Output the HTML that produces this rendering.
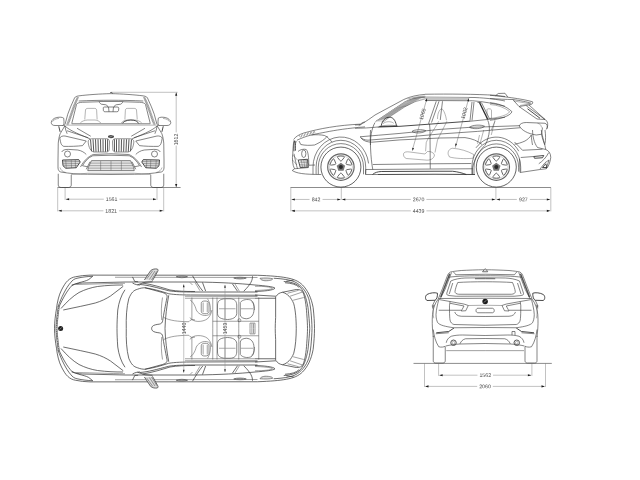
<!DOCTYPE html>
<html lang="en">
<head>
<meta charset="utf-8">
<title>Vehicle dimensions</title>
<style>
html,body{margin:0;padding:0;background:#fff;}
body{width:640px;height:480px;overflow:hidden;font-family:"Liberation Sans",sans-serif;}
svg{display:block;will-change:transform;position:absolute;left:0;top:0;}
.l path,.l line,.l ellipse,.l circle,.l rect,.l polyline{fill:none;stroke:#333;stroke-width:0.6;vector-effect:non-scaling-stroke;stroke-linecap:butt;stroke-linejoin:round;}
.l .t{stroke-width:0.4;stroke:#444;}
.l.tp path,.l.tp circle{stroke-width:0.72;}
.l.tp .t{stroke-width:0.5;stroke:#444;}
.l .h{stroke-width:0.85;stroke:#2a2a2a;}
.l .f{fill:#444;stroke:none;}
.l .w{fill:#fff;}
.d line,.d path{stroke:#777;stroke-width:0.45;fill:none;}
.d .g{stroke:#8c8c8c;stroke-width:1;}
.d polygon{fill:#1a1a1a;stroke:none;}
.d text{font-family:"Liberation Sans",sans-serif;font-size:5.25px;fill:#484848;text-anchor:middle;}
</style>
</head>
<body>
<svg width="640" height="480" viewBox="0 0 640 480">
<!-- dims -->
<g class="d">
<line class="g" x1="57.5" y1="187.5" x2="180.6" y2="187.5"/>
<line x1="57.7" y1="187.5" x2="57.7" y2="211.4"/>
<line x1="163.7" y1="187.5" x2="163.7" y2="211.4"/>
<line x1="65.1" y1="187.5" x2="65.1" y2="199.9"/>
<line x1="157" y1="187.5" x2="157" y2="199.9"/>
<line x1="66.1" y1="199.2" x2="103.8" y2="199.2"/>
<line x1="119.39999999999999" y1="199.2" x2="156" y2="199.2"/>
<polygon points="65.69999999999999,199.2 69.1,198.14999999999998 69.1,200.25"/>
<polygon points="156.4,199.2 153.0,198.14999999999998 153.0,200.25"/>
<text transform="translate(111.60,201.08) rotate(0.05)">1561</text>
<line x1="58.7" y1="210.8" x2="103.4" y2="210.8"/>
<line x1="119.0" y1="210.8" x2="162.7" y2="210.8"/>
<polygon points="58.300000000000004,210.8 61.7,209.75 61.7,211.85000000000002"/>
<polygon points="163.1,210.8 159.7,209.75 159.7,211.85000000000002"/>
<text transform="translate(111.20,212.68) rotate(0.05)">1821</text>
<line x1="111" y1="92.3" x2="177.6" y2="92.3"/>
<line x1="176.2" y1="93.3" x2="176.2" y2="132.4"/>
<line x1="176.2" y1="145.6" x2="176.2" y2="186.5"/>
<polygon points="176.2,92.3 175.14999999999998,95.7 177.25,95.7"/>
<polygon points="176.2,187.5 175.14999999999998,184.1 177.25,184.1"/>
<text transform="translate(178.04999999999998,139.5) rotate(-90)">1612</text>
<line class="g" x1="290.5" y1="187.5" x2="550.9" y2="187.5"/>
<line x1="290.8" y1="187.5" x2="290.8" y2="211.4"/>
<line x1="550.8" y1="187.5" x2="550.8" y2="211.4"/>
<line x1="341.3" y1="187.5" x2="341.3" y2="199.9"/>
<line x1="495.9" y1="187.5" x2="495.9" y2="199.9"/>
<line x1="291.8" y1="199.45" x2="309.55" y2="199.45"/>
<line x1="322.55" y1="199.45" x2="340.3" y2="199.45"/>
<polygon points="291.40000000000003,199.45 294.8,198.39999999999998 294.8,200.5"/>
<polygon points="340.7,199.45 337.3,198.39999999999998 337.3,200.5"/>
<text transform="translate(316.05,201.33) rotate(0.05)">842</text>
<line x1="342.3" y1="199.45" x2="410.8" y2="199.45"/>
<line x1="426.40000000000003" y1="199.45" x2="494.9" y2="199.45"/>
<polygon points="341.90000000000003,199.45 345.3,198.39999999999998 345.3,200.5"/>
<polygon points="495.29999999999995,199.45 491.9,198.39999999999998 491.9,200.5"/>
<text transform="translate(418.60,201.33) rotate(0.05)">2670</text>
<line x1="496.9" y1="199.45" x2="516.8499999999999" y2="199.45"/>
<line x1="529.8499999999999" y1="199.45" x2="549.8" y2="199.45"/>
<polygon points="496.5,199.45 499.9,198.39999999999998 499.9,200.5"/>
<polygon points="550.1999999999999,199.45 546.8,198.39999999999998 546.8,200.5"/>
<text transform="translate(523.35,201.33) rotate(0.05)">927</text>
<line x1="291.8" y1="210.85" x2="410.8" y2="210.85"/>
<line x1="426.40000000000003" y1="210.85" x2="549.8" y2="210.85"/>
<polygon points="291.40000000000003,210.85 294.8,209.79999999999998 294.8,211.9"/>
<polygon points="550.1999999999999,210.85 546.8,209.79999999999998 546.8,211.9"/>
<text transform="translate(418.60,212.73) rotate(0.05)">4439</text>
<line class="g" x1="413.5" y1="363.4" x2="551.8" y2="363.4"/>
<line x1="424.5" y1="363.4" x2="424.5" y2="387"/>
<line x1="545.5" y1="363.4" x2="545.5" y2="387"/>
<line x1="438.6" y1="363.4" x2="438.6" y2="375.9"/>
<line x1="531.9" y1="363.4" x2="531.9" y2="375.9"/>
<line x1="439.6" y1="375.2" x2="477.45" y2="375.2"/>
<line x1="493.05" y1="375.2" x2="530.9" y2="375.2"/>
<polygon points="439.20000000000005,375.2 442.6,374.15 442.6,376.25"/>
<polygon points="531.3,375.2 527.9,374.15 527.9,376.25"/>
<text transform="translate(485.25,377.08) rotate(0.05)">1562</text>
<line x1="425.5" y1="386.4" x2="477.2" y2="386.4"/>
<line x1="492.8" y1="386.4" x2="544.5" y2="386.4"/>
<polygon points="425.1,386.4 428.5,385.34999999999997 428.5,387.45"/>
<polygon points="544.9,386.4 541.5,385.34999999999997 541.5,387.45"/>
<text transform="translate(485.00,388.28) rotate(0.05)">2060</text>
</g>
<!-- front -->
<g class="l">

<g transform="translate(45,88) scale(0.125)">
 <g>
 <!-- roof + A pillar -->
 <path d="M528,45 C440,47 340,54 270,63 C252,66 243,70 237,78 L205,150 L182,210 L160,292"/>
 <path d="M258,72 L227,142 L190,248 L174,290 L188,290 L206,240 L240,142 L268,74 Z" style="fill:#d4d4d4;stroke:#777;stroke-width:0.5"/>
 <path class="t" d="M262,82 L246,100 M256,98 L238,120 M248,118 L230,142 M240,140 L222,164 M232,162 L214,188 M224,186 L206,212 M216,210 L198,236 M208,234 L190,260 M200,258 L182,282" style="stroke:#666"/>
 <path d="M270,104 C350,100 450,98 528,98"/>
 <!-- windshield -->
 <path d="M528,108 L626,108 M430,110 L300,114 C275,115 258,120 252,132 L214,284"/>
 <path d="M430,110 C436,112 440,126 452,130 L486,134 C498,136 500,146 504,154"/>
 <path d="M214,286 L528,286"/>
 <path class="t" d="M168,297 L528,297"/>
 <!-- seat -->
 <path class="t" d="M318,252 L324,176 C325,166 334,163 345,163 L395,163 C407,163 412,168 413,178 L417,252"/>
 <path class="t" d="M283,278 C298,264 318,258 340,256 L400,256 C420,258 436,266 446,280"/>
 <!-- door mirror -->
 <path d="M150,242 C138,232 118,232 95,236 C70,241 52,256 50,276 C50,292 62,300 80,300 L142,300 C150,298 152,290 152,270 Z"/>
 <path class="t" d="M60,270 C66,256 86,246 112,243"/>
 <path class="h" d="M110,306 L121,351"/>
 <path d="M140,300 L160,296"/>
 <!-- body side -->
 <path d="M159,302 L121,366 C112,390 108,420 106,441 L104,576 L104,640 C106,660 114,668 126,672"/>
 <path d="M159,302 L166,336 L177,366"/>
 <!-- hood creases -->
 <path d="M158,302 C200,345 300,380 362,408"/>
 <path d="M256,322 L366,386"/>
 <path d="M176,342 L346,398"/>
 <!-- headlight -->
 <path d="M118,400 C124,388 140,382 160,384 L330,424 L300,461 C260,466 200,468 150,467 C136,462 128,450 124,430 Z"/>
 <!-- kidney -->
 <path style="stroke:#777;stroke-width:0.8" d="M345,432 C345,416 355,408 375,406 L495,406 C510,408 516,416 516,432 L513,496 C511,508 500,512 490,512 L392,512 C366,508 350,478 345,432 Z"/>
 <path class="h" d="M364,412 L372,506 M384,410 L390,510 M404,410 L408,510 M424,410 L427,510 M444,410 L446,510 M464,410 L465,510 M484,410 L484,510 M501,410 L500,508" style="stroke-width:0.85;stroke:#3a3a3a"/>
 <!-- fog lamp area -->
 <path d="M134,512 C140,496 160,491 186,491 L262,496 C292,501 316,516 330,532"/>
 <circle cx="180" cy="528" r="24"/>
 <path d="M300,622 C320,588 342,558 382,542 L528,538"/>
 <path d="M284,632 C310,582 346,548 386,532 L528,526"/>
 <!-- lower vent -->
 <path class="h" d="M140,576 L270,573 L282,592 L250,638 L166,642 L144,622 Z" style="fill:#ddd"/>
 <path class="t" d="M146,590 L278,588 M146,606 L270,604 M150,622 L258,620 M166,578 L170,640 M210,576 L212,640 M242,576 L244,638"/>
 <!-- central intake -->
 <path d="M528,581 L372,581 L346,636 L342,661 L528,661" style="fill:#e6e6e6"/>
 <path class="t" d="M364,601 L528,601 M354,621 L528,621 M346,641 L528,641 M445,584 L445,658"/>
 <path d="M300,622 L340,630 M330,650 L360,590"/>
 <!-- bumper bottom -->
 <path d="M126,672 C200,684 260,690 340,690 L528,692"/>
 <path class="t" d="M120,636 C126,656 140,670 166,676 M210,692 L340,682 L528,682"/>
 <!-- tire -->
 <path d="M106,686 L106,776 C106,790 116,796 130,796 L190,796 C204,794 210,786 210,776 L210,694"/>
</g>
 <g transform="translate(1056,0) scale(-1,1)">
 <!-- roof + A pillar -->
 <path d="M528,45 C440,47 340,54 270,63 C252,66 243,70 237,78 L205,150 L182,210 L160,292"/>
 <path d="M258,72 L227,142 L190,248 L174,290 L188,290 L206,240 L240,142 L268,74 Z" style="fill:#d4d4d4;stroke:#777;stroke-width:0.5"/>
 <path class="t" d="M262,82 L246,100 M256,98 L238,120 M248,118 L230,142 M240,140 L222,164 M232,162 L214,188 M224,186 L206,212 M216,210 L198,236 M208,234 L190,260 M200,258 L182,282" style="stroke:#666"/>
 <path d="M270,104 C350,100 450,98 528,98"/>
 <!-- windshield -->
 <path d="M528,108 L626,108 M430,110 L300,114 C275,115 258,120 252,132 L214,284"/>
 <path d="M430,110 C436,112 440,126 452,130 L486,134 C498,136 500,146 504,154"/>
 <path d="M214,286 L528,286"/>
 <path class="t" d="M168,297 L528,297"/>
 <!-- seat -->
 <path class="t" d="M318,252 L324,176 C325,166 334,163 345,163 L395,163 C407,163 412,168 413,178 L417,252"/>
 <path class="t" d="M283,278 C298,264 318,258 340,256 L400,256 C420,258 436,266 446,280"/>
 <!-- door mirror -->
 <path d="M150,242 C138,232 118,232 95,236 C70,241 52,256 50,276 C50,292 62,300 80,300 L142,300 C150,298 152,290 152,270 Z"/>
 <path class="t" d="M60,270 C66,256 86,246 112,243"/>
 <path class="h" d="M110,306 L121,351"/>
 <path d="M140,300 L160,296"/>
 <!-- body side -->
 <path d="M159,302 L121,366 C112,390 108,420 106,441 L104,576 L104,640 C106,660 114,668 126,672"/>
 <path d="M159,302 L166,336 L177,366"/>
 <!-- hood creases -->
 <path d="M158,302 C200,345 300,380 362,408"/>
 <path d="M256,322 L366,386"/>
 <path d="M176,342 L346,398"/>
 <!-- headlight -->
 <path d="M118,400 C124,388 140,382 160,384 L330,424 L300,461 C260,466 200,468 150,467 C136,462 128,450 124,430 Z"/>
 <!-- kidney -->
 <path style="stroke:#777;stroke-width:0.8" d="M345,432 C345,416 355,408 375,406 L495,406 C510,408 516,416 516,432 L513,496 C511,508 500,512 490,512 L392,512 C366,508 350,478 345,432 Z"/>
 <path class="h" d="M364,412 L372,506 M384,410 L390,510 M404,410 L408,510 M424,410 L427,510 M444,410 L446,510 M464,410 L465,510 M484,410 L484,510 M501,410 L500,508" style="stroke-width:0.85;stroke:#3a3a3a"/>
 <!-- fog lamp area -->
 <path d="M134,512 C140,496 160,491 186,491 L262,496 C292,501 316,516 330,532"/>
 <circle cx="180" cy="528" r="24"/>
 <path d="M300,622 C320,588 342,558 382,542 L528,538"/>
 <path d="M284,632 C310,582 346,548 386,532 L528,526"/>
 <!-- lower vent -->
 <path class="h" d="M140,576 L270,573 L282,592 L250,638 L166,642 L144,622 Z" style="fill:#ddd"/>
 <path class="t" d="M146,590 L278,588 M146,606 L270,604 M150,622 L258,620 M166,578 L170,640 M210,576 L212,640 M242,576 L244,638"/>
 <!-- central intake -->
 <path d="M528,581 L372,581 L346,636 L342,661 L528,661" style="fill:#e6e6e6"/>
 <path class="t" d="M364,601 L528,601 M354,621 L528,621 M346,641 L528,641 M445,584 L445,658"/>
 <path d="M300,622 L340,630 M330,650 L360,590"/>
 <!-- bumper bottom -->
 <path d="M126,672 C200,684 260,690 340,690 L528,692"/>
 <path class="t" d="M120,636 C126,656 140,670 166,676 M210,692 L340,682 L528,682"/>
 <!-- tire -->
 <path d="M106,686 L106,776 C106,790 116,796 130,796 L190,796 C204,794 210,786 210,776 L210,694"/>
</g>
 <!-- centre items -->
 <path class="t" d="M528,584 L528,658"/>
 <path d="M466,160 C466,154 470,152 478,152 L578,152 C586,152 590,156 590,162 L588,182 C586,188 582,190 574,190 L482,190 C472,190 468,186 467,180 Z M508,153 L512,190 M548,153 L544,190"/>
 <ellipse class="f" cx="528" cy="388" rx="24" ry="13"/>
 <path d="M514,394 L542,382" style="stroke:#fff;stroke-width:0.4"/>
 <path d="M520,36 L536,36 L540,45"/>
 <!-- steering wheel -->
 <path class="h" d="M620,280 C640,258 680,252 710,258 C730,262 742,270 750,284"/>
</g>
</g>

<!-- side -->
<g class="l">
<!-- S1: hood (origin 285,85) -->
<g transform="translate(285,85) scale(0.125)">
 <path d="M69,436 C85,412 110,398 150,384 C280,348 420,322 604,313"/>
 <path d="M95,442 C130,425 170,410 211,400 C260,388 300,382 324,377 C400,362 500,346 640,335"/>
 <path d="M118,412 C160,396 200,386 240,376" style="stroke:#444;stroke-width:2.4;stroke-dasharray:0.45 1.1"/>
 <path d="M211,400 C250,396 290,398 316,404 C340,415 360,435 376,458"/>
 <path d="M590,325 L620,300 L640,296"/>
</g>
<!-- S2: front lower (origin 285,130) -->
<g transform="translate(285,130) scale(0.125)">
 <path d="M72,82 C66,110 64,150 62,190 C56,230 60,280 76,310 L58,324 C90,346 150,356 290,356"/>
 <path class="h" d="M78,85 C70,110 70,140 72,170 M88,88 C82,110 82,140 84,165"/>
 <path d="M112,88 L126,116 C160,124 200,124 236,120 C290,96 320,72 340,48"/>
 <path d="M104,172 C120,156 150,150 170,156 C186,172 190,220 190,282"/>
 <ellipse cx="150" cy="190" rx="17" ry="30"/>
 <path class="h" d="M106,240 L180,234 L186,296 L122,300 Z"/>
 <path class="t" d="M120,250 L182,246 M114,262 L184,258 M118,276 L184,272 M120,288 L186,284 M130,240 L140,298 M150,238 L158,298 M168,236 L174,296"/>
 <path d="M72,190 C80,230 90,280 100,310 M76,310 L190,300 M190,282 L240,280"/>
 <path class="t" d="M62,200 L100,240 M60,240 L96,280"/>
</g>
<!-- S3: A pillar / front door upper (origin 355,85) -->
<g transform="translate(355,85) scale(0.125)">
 <path d="M44,318 C90,290 130,262 160,240 L390,116 C440,92 500,80 560,75"/>
 <path d="M0,320 L44,318 M0,346 C60,346 130,342 180,336"/>
 <path d="M164,292 L400,134 C450,108 510,101 560,99"/>
 <path class="t" d="M420,112 C480,96 520,90 560,89"/>
 <path d="M164,292 L400,134 C450,110 500,104 580,104 L480,134 L400,174 L300,240 L222,298 Z" style="fill:#e4e4e4;stroke:none"/>
 <path class="t" d="M170,288 L265,260 M183,279 L278,252 M196,271 L291,243 M209,262 L304,234 M222,253 L317,226 M235,244 L330,217 M248,236 L343,208 M261,227 L356,199 M274,218 L369,191 M287,210 L382,182 M300,201 L395,173 M313,192 L408,168 M326,184 L421,163 M339,175 L434,156 M352,166 L447,149 M365,157 L460,142 M378,149 L473,135 M391,140 L486,128 M404,132 L499,121 M417,127 L512,113 M430,121 L525,106 M443,115 L538,99 M456,109 L551,95 M469,104 L564,91" style="stroke:#666"/>
 <path d="M222,298 L300,240 L400,174 L480,134 L580,106" style="stroke-width:0.4"/>
 <path class="h" d="M210,326 C218,282 245,258 275,258 C302,258 322,276 332,326"/>
 <path class="h" d="M196,332 L340,328"/>
 <path class="t" d="M225,310 C240,290 290,288 310,306 M190,332 C230,320 300,318 336,328"/>
 <path d="M160,300 C132,350 122,420 124,480"/>
 <path d="M456,372 C470,356 540,352 566,366 C548,386 480,390 456,372 Z"/>
</g>
<!-- S4: front door lower (origin 355,130) -->
<g transform="translate(355,130) scale(0.125)">
 <path d="M124,0 C120,80 124,220 142,316"/>
 <path class="t" d="M390,186 C384,200 390,220 410,228 L560,240 C600,246 630,232 636,200 C630,180 604,170 580,172 L560,192 L440,176 C410,172 396,176 390,186 Z"/>
 <path d="M142,276 L640,270"/>
 <path d="M86,316 L640,312"/>
 <path class="h" d="M140,356 C160,340 180,334 210,332 L640,330 M180,356 L640,354"/>
 <path d="M86,316 L84,356 L180,356"/>
</g>
<!-- S5: rear door upper (origin 425,85) -->
<g transform="translate(425,85) scale(0.125)">
 <path d="M0,74 C200,71 400,73 560,82 L640,92"/>
 <path d="M0,97 L400,100 C500,105 580,116 640,128"/>
 <path d="M4,110 L350,111" style="stroke:#c4c4c4;stroke-width:3"/>
 <path d="M0,124 L380,126 C460,131 560,150 640,170"/>
 <path d="M90,130 L28,310 M112,130 L52,300 M140,130 L122,280"/>
 <path class="t" d="M100,272 C100,220 120,190 135,190 C150,200 166,240 172,282"/>
 <path d="M376,136 L360,286 M392,136 L376,284"/>
 <path class="h" d="M436,140 L502,276" style="stroke-width:1.3"/>
 <path d="M420,140 L450,140 M452,142 L516,270"/>
 <path d="M360,290 L500,276 L640,258"/>
 <path d="M356,338 C380,318 450,316 476,330 C456,352 380,356 356,338 Z"/>
 <path class="t" d="M496,200 C496,192 502,190 510,190 L524,192 C530,194 532,200 532,206 L532,266 L496,270 Z"/>
 <path d="M502,282 C522,330 522,400 482,480"/>
 <path class="t" d="M560,280 L530,400"/>
</g>
<!-- S6: rear door lower (origin 425,130) -->
<g transform="translate(425,130) scale(0.125)">
 <path d="M36,-50 L40,0 L42,310"/>
 <path class="t" d="M186,196 C180,170 196,150 220,146 C280,150 340,168 390,196 L384,226 C320,232 240,228 196,216 Z"/>
 <path d="M80,270 L370,268"/>
 <path d="M80,312 L380,310"/>
 <path class="h" d="M80,330 L220,330 C260,334 300,344 330,356 M80,354 L400,356"/>
 <path d="M480,122 C440,160 400,220 380,300 L380,356"/>
 <path class="t" d="M436,40 L420,110 M470,0 L440,110"/>
</g>
<!-- S7: rear upper (origin 490,85) -->
<g transform="translate(490,85) scale(0.125)">
 <path d="M44,86 L66,68 L120,66 L142,96"/>
 <path d="M0,82 C100,92 250,108 340,134 C346,146 336,156 320,158 L232,172 L182,116"/>
 <path d="M0,108 C60,112 130,116 182,116 M182,116 C240,124 300,136 330,146"/>
 <path d="M0,142 C60,146 130,168 176,214 C160,250 80,272 0,282"/>
 <path class="t" d="M0,156 C60,160 120,180 158,214 C140,240 80,258 0,268"/>
 <path d="M232,172 L376,272 M290,166 L440,276 M312,160 L456,290"/>
 <path class="h" d="M300,190 L400,266"/>
 <path d="M376,272 L440,276"/>
 <path d="M456,290 C466,310 462,340 450,356"/>
 <path d="M234,326 C240,310 260,300 290,300 L440,306 C458,312 462,330 456,350"/>
 <path d="M234,326 C250,360 300,390 370,400 L412,394 L420,340"/>
 <path class="t" d="M380,306 C400,310 410,320 412,340"/>
 <path class="t" d="M190,128 L322,150 L240,164"/>
 <path d="M330,400 C320,420 300,436 280,448 C250,462 220,470 196,474"/>
 <path d="M330,400 C332,430 336,460 340,480 M412,394 C420,430 430,460 440,480"/>
 <path class="t" d="M40,290 L10,360"/>
</g>
<!-- S8: rear lower (origin 490,130) -->
<g transform="translate(490,130) scale(0.125)">
 <path d="M410,0 C420,60 440,120 446,156 C470,166 486,186 486,220 C480,260 470,290 450,310 L400,316 L240,340"/>
 <path d="M340,0 C342,50 350,100 380,140 L446,156"/>
 <path d="M440,0 C446,40 446,80 440,110"/>
 <path d="M196,96 L260,162 L420,154 M246,220 L350,212 M240,340 L236,230"/>
 <path class="h" d="M350,212 L430,204 L420,222 L356,226 Z"/>
 <path d="M390,270 C420,250 450,220 470,180 M400,312 L440,262 L472,240 L450,310"/>
 <path class="h" d="M420,300 L446,270 L456,300 Z"/>
</g>

<!-- global long lines (real coords) -->
<g>
 <path class="h" d="M377.5,127.1 L400,126.3 L440,123.4 L470,121.2"/>
 <path d="M360,136.8 L378.75,135.2 L400,133.4 L440,129.4 L469,127.4 L520,125.7"/>
 <path d="M360,136.8 C362,139 365,140.2 368,140.2 L400,137.6 L440,134 L477.5,131.4 L500,129.4 L520.5,127.7"/>
 <path d="M361,138 C363,141 368,142.2 372,142.2 L400,139.9 L440,138 L465,137.6 C472,138.5 478,141 482,144.5"/>
 <path class="t" d="M426.9,98.5 L412.6,149.3 M468.75,98.3 L455.3,147.8"/>
 <path class="t" d="M438.75,121.25 C434,130 428,138 426.25,142.5 L425.6,151.25 M446.9,121.25 L437.5,140 L435,152.5"/>
</g>

<path d="M318.30,174.3 L318.30,167.10 A22.6,23.5 0 0 1 363.50,167.10 L363.50,174.3"/>
<path d="M316.10,174.3 L316.10,167.10 A24.8,26.8 0 0 1 365.70,167.10 L365.70,174.3"/>
<path d="M313.00,174.3 L313.00,167.10 A27.9,30.1 0 0 1 368.59,163.43"/>
<path d="M474.00,174.2 L474.00,167.10 A22.3,23.2 0 0 1 518.60,167.10 L518.60,171.6"/>
<path d="M471.90,174.2 L471.90,167.10 A24.4,26.8 0 0 1 520.70,167.10 L520.70,171.9"/>
<path d="M476.00,147.82 A26.5,30.0 0 0 1 518.77,151.20"/>
<g transform="translate(340.9,167.1)">
<circle class="w" r="20" style="stroke-width:0.75"/>
<circle r="13.2" style="stroke-width:1.2;stroke:#666"/>
<circle class="t" r="11.6" style="stroke:#999"/>
<path transform="rotate(30) translate(-0.6,0) scale(1.1)" d="M10.4,-2.6 C10.7,-1 10.7,1 10.4,2.6 C10.2,3.3 9.6,3.3 9,2.8 L6.5,0.8 C5.9,0.3 5.9,-0.3 6.5,-0.8 L9,-2.8 C9.6,-3.3 10.2,-3.3 10.4,-2.6 Z" style="stroke-width:0.9;stroke:#555"/>
<path transform="rotate(90) translate(-0.6,0) scale(1.1)" d="M10.4,-2.6 C10.7,-1 10.7,1 10.4,2.6 C10.2,3.3 9.6,3.3 9,2.8 L6.5,0.8 C5.9,0.3 5.9,-0.3 6.5,-0.8 L9,-2.8 C9.6,-3.3 10.2,-3.3 10.4,-2.6 Z" style="stroke-width:0.9;stroke:#555"/>
<path transform="rotate(150) translate(-0.6,0) scale(1.1)" d="M10.4,-2.6 C10.7,-1 10.7,1 10.4,2.6 C10.2,3.3 9.6,3.3 9,2.8 L6.5,0.8 C5.9,0.3 5.9,-0.3 6.5,-0.8 L9,-2.8 C9.6,-3.3 10.2,-3.3 10.4,-2.6 Z" style="stroke-width:0.9;stroke:#555"/>
<path transform="rotate(210) translate(-0.6,0) scale(1.1)" d="M10.4,-2.6 C10.7,-1 10.7,1 10.4,2.6 C10.2,3.3 9.6,3.3 9,2.8 L6.5,0.8 C5.9,0.3 5.9,-0.3 6.5,-0.8 L9,-2.8 C9.6,-3.3 10.2,-3.3 10.4,-2.6 Z" style="stroke-width:0.9;stroke:#555"/>
<path transform="rotate(270) translate(-0.6,0) scale(1.1)" d="M10.4,-2.6 C10.7,-1 10.7,1 10.4,2.6 C10.2,3.3 9.6,3.3 9,2.8 L6.5,0.8 C5.9,0.3 5.9,-0.3 6.5,-0.8 L9,-2.8 C9.6,-3.3 10.2,-3.3 10.4,-2.6 Z" style="stroke-width:0.9;stroke:#555"/>
<path transform="rotate(330) translate(-0.6,0) scale(1.1)" d="M10.4,-2.6 C10.7,-1 10.7,1 10.4,2.6 C10.2,3.3 9.6,3.3 9,2.8 L6.5,0.8 C5.9,0.3 5.9,-0.3 6.5,-0.8 L9,-2.8 C9.6,-3.3 10.2,-3.3 10.4,-2.6 Z" style="stroke-width:0.9;stroke:#555"/>
<path class="f" d="M0,-4.4 L4.2,-1.36 L2.6,3.56 L-2.6,3.56 L-4.2,-1.36 Z" style="fill:#777"/>
<circle class="f" r="2" style="fill:#2a2a2a"/>
</g>
<g transform="translate(496.3,167.1)">
<circle class="w" r="20" style="stroke-width:0.75"/>
<circle r="13.2" style="stroke-width:1.2;stroke:#666"/>
<circle class="t" r="11.6" style="stroke:#999"/>
<path transform="rotate(30) translate(-0.6,0) scale(1.1)" d="M10.4,-2.6 C10.7,-1 10.7,1 10.4,2.6 C10.2,3.3 9.6,3.3 9,2.8 L6.5,0.8 C5.9,0.3 5.9,-0.3 6.5,-0.8 L9,-2.8 C9.6,-3.3 10.2,-3.3 10.4,-2.6 Z" style="stroke-width:0.9;stroke:#555"/>
<path transform="rotate(90) translate(-0.6,0) scale(1.1)" d="M10.4,-2.6 C10.7,-1 10.7,1 10.4,2.6 C10.2,3.3 9.6,3.3 9,2.8 L6.5,0.8 C5.9,0.3 5.9,-0.3 6.5,-0.8 L9,-2.8 C9.6,-3.3 10.2,-3.3 10.4,-2.6 Z" style="stroke-width:0.9;stroke:#555"/>
<path transform="rotate(150) translate(-0.6,0) scale(1.1)" d="M10.4,-2.6 C10.7,-1 10.7,1 10.4,2.6 C10.2,3.3 9.6,3.3 9,2.8 L6.5,0.8 C5.9,0.3 5.9,-0.3 6.5,-0.8 L9,-2.8 C9.6,-3.3 10.2,-3.3 10.4,-2.6 Z" style="stroke-width:0.9;stroke:#555"/>
<path transform="rotate(210) translate(-0.6,0) scale(1.1)" d="M10.4,-2.6 C10.7,-1 10.7,1 10.4,2.6 C10.2,3.3 9.6,3.3 9,2.8 L6.5,0.8 C5.9,0.3 5.9,-0.3 6.5,-0.8 L9,-2.8 C9.6,-3.3 10.2,-3.3 10.4,-2.6 Z" style="stroke-width:0.9;stroke:#555"/>
<path transform="rotate(270) translate(-0.6,0) scale(1.1)" d="M10.4,-2.6 C10.7,-1 10.7,1 10.4,2.6 C10.2,3.3 9.6,3.3 9,2.8 L6.5,0.8 C5.9,0.3 5.9,-0.3 6.5,-0.8 L9,-2.8 C9.6,-3.3 10.2,-3.3 10.4,-2.6 Z" style="stroke-width:0.9;stroke:#555"/>
<path transform="rotate(330) translate(-0.6,0) scale(1.1)" d="M10.4,-2.6 C10.7,-1 10.7,1 10.4,2.6 C10.2,3.3 9.6,3.3 9,2.8 L6.5,0.8 C5.9,0.3 5.9,-0.3 6.5,-0.8 L9,-2.8 C9.6,-3.3 10.2,-3.3 10.4,-2.6 Z" style="stroke-width:0.9;stroke:#555"/>
<path class="f" d="M0,-4.4 L4.2,-1.36 L2.6,3.56 L-2.6,3.56 L-4.2,-1.36 Z" style="fill:#777"/>
<circle class="f" r="2" style="fill:#2a2a2a"/>
</g>
</g>
<g class="d sidetext"><text transform="translate(424.3,114.6) rotate(-74.3)">1065</text><text transform="translate(466,113.6) rotate(-74.5)">1002</text><polygon points="426.9,98.2 427.1,101.4 425.4,101"/><polygon points="468.8,98.2 469,101.4 467.3,101"/><polygon points="412.4,151 412.3,147.8 414,148.3"/><polygon points="455.4,146.6 455.3,143.4 457,143.9"/></g>
<!-- top -->
<g class="l tp">

<g transform="translate(45,255) scale(0.125)">
 <g>
 <!-- front corner / hood (T1) -->
 <path d="M76,588 C76,540 83,480 92,430 C97,380 111,320 132,280 C150,245 165,220 182,205 C200,188 220,178 244,174 C280,166 320,162 360,161 L1700,162"/>
 <path d="M104,416 C130,340 170,260 204,222 C220,200 236,190 256,186 C300,176 340,172 382,170 L350,196 C330,208 300,214 270,222 L212,242"/>
 <path d="M110,420 C140,350 180,280 216,244 C240,230 270,226 300,224 L640,216 L1200,216"/>
 <path class="t" d="M250,236 C400,232 520,228 640,226"/>
 <path d="M128,428 C170,380 220,330 272,300 C320,276 370,260 420,252 C500,242 560,240 624,240"/>
 <path d="M146,440 C240,420 330,402 402,384 C450,370 490,350 524,328 L626,250"/>
 <!-- grille band -->
 <path d="M110,412 C105,455 94,520 92,588" style="stroke:#666;stroke-width:2"/>
 <path d="M110,420 C105,458 95,520 93,588" style="stroke:#fff;stroke-width:0.8;stroke-dasharray:0.7 1"/>
 <!-- cowl + windshield (T1b) -->
 <path d="M640,278 C610,320 590,380 582,440 C578,500 576,540 576,588"/>
 <path d="M650,588 C648,500 652,420 670,350 C690,300 710,282 740,274 C760,266 780,262 800,262 L940,300 C970,310 980,320 976,340 C964,400 948,480 942,522 C940,542 930,550 915,553 C890,556 870,560 860,570 C855,576 853,582 853,588"/>
 <path d="M990,322 C975,400 962,500 960,588"/>
 <path class="t" d="M940,340 C930,400 928,460 934,520"/>
 <!-- A pillar / roof rail -->
 <path d="M700,224 C720,236 740,240 760,240 M740,238 L800,218 L860,214"/>
 <path class="h" d="M760,236 C820,240 900,262 990,286 C1040,294 1100,296 1200,296 L1700,296"/>
 <path d="M780,224 C860,236 940,262 1000,280 C1060,290 1120,292 1200,292"/>
 <path d="M800,262 C860,270 930,290 990,310 C1040,318 1100,320 1200,320 L1700,322"/>
 <path class="t" d="M560,178 L1700,180"/>
 <!-- mirror -->
 <path d="M795,200 L845,125 C860,112 880,110 896,112 C906,114 906,122 902,130 L860,205" style="fill:#ddd"/>
 <path class="t" d="M815,190 L862,125 M835,196 L880,128 M852,200 L895,130"/>
 <path d="M700,175 L718,212 L745,214"/>
 <!-- door handles -->
 <path d="M1050,174 C1070,166 1120,166 1140,174 C1120,184 1070,184 1050,174 Z" style="fill:#bbb;stroke:#555"/>
 <path d="M1510,184 C1530,176 1590,176 1610,184 C1590,194 1530,194 1510,184 Z" style="fill:#bbb;stroke:#555"/>
 <!-- pillars diag (T1c) -->
 <path d="M1180,166 C1200,200 1230,250 1262,288 M1260,220 L1285,288 M1500,232 L1540,290 M1660,170 C1660,200 1650,230 1590,290"/>
 <path class="t" d="M1200,220 L1240,286 M1520,232 L1555,290 M1160,220 L1180,240"/>
 <!-- interior -->
 <path class="t" d="M1175,340 L1175,515 M1342,340 L1342,588 M1376,340 L1376,588 M1550,340 L1550,588 M1710,340 L1710,588"/>
 <path class="t" d="M1120,330 L1700,332 M1120,346 L1680,346"/>
 <path class="t" d="M1342,530 L1710,530"/>
 <!-- front seat -->
 <path class="t" d="M1160,360 C1180,370 1200,400 1210,440 C1230,480 1290,500 1320,470 C1330,430 1320,380 1300,350"/>
 <path class="t" d="M1160,500 C1180,540 1260,540 1300,510 C1320,490 1330,470 1335,440"/>
 <path d="M1250,388 C1250,372 1262,368 1280,368 C1300,368 1312,374 1312,390 L1312,450 C1312,466 1300,470 1280,470 C1262,470 1250,464 1250,450 Z" style="stroke:#666"/>
 <path class="t" d="M1265,380 L1265,458 M1298,380 L1298,458"/>
 <path class="t" d="M950,500 C1000,525 1060,532 1150,534 C1160,520 1180,510 1200,520"/>
 <!-- rear seats -->
 <path d="M1380,400 C1380,370 1400,352 1440,350 L1480,350 C1520,352 1532,370 1534,400 L1534,470 C1530,500 1500,515 1460,516 C1410,514 1382,500 1380,470 Z" style="stroke:#666;stroke-width:0.8"/>
 <path d="M1392,430 L1524,430 M1440,352 L1440,514" style="stroke:#888"/>
 <path d="M1562,380 C1580,356 1620,350 1650,362 C1670,376 1674,400 1672,440 C1670,480 1650,508 1610,510 C1585,508 1565,500 1562,480 Z" style="stroke:#666;stroke-width:0.8"/>
 <path d="M1566,430 L1664,430" style="stroke:#888"/>
 <path class="t" d="M1650,372 C1664,380 1676,400 1676,440"/>
 <circle class="t" cx="1555" cy="522" r="12"/>
 <!-- armrest -->
 <path d="M1640,545 L1680,545 L1680,588 M1640,545 L1640,588 M1655,548 L1655,588 M1668,548 L1668,588" style="stroke:#777"/>
 <!-- rear (T1d) -->
 <path d="M1700,162 C1800,166 1880,172 1930,182 C1990,192 2030,210 2060,240 C2100,280 2130,340 2145,420 C2152,480 2156,540 2156,588"/>
 <path d="M1830,186 C1900,190 1960,198 2000,216 C2050,240 2090,290 2110,350 C2125,400 2134,500 2136,588"/>
 <path d="M1910,212 C1960,214 2000,224 2030,246 C2070,280 2090,340 2104,420 C2110,480 2116,540 2118,588"/>
 <path d="M1920,222 C1970,226 2010,234 2034,260 M1990,200 L1930,210"/>
 <path d="M1850,330 C1860,310 1880,302 1900,298 L2010,276 C2040,274 2056,284 2066,304 C2080,340 2090,400 2094,470 C2098,520 2100,560 2100,588"/>
 <path d="M1900,298 C1940,310 1970,340 1990,390 C2004,440 2010,520 2010,588"/>
 <path class="t" d="M1960,330 L2060,296 M1985,362 L2070,340 M1940,306 L2030,282"/>
 <path d="M1845,335 L1845,500 C1843,540 1842,560 1842,588"/>
 <path d="M1200,216 C1400,218 1560,228 1680,240 C1760,246 1830,254 1840,265 C1830,284 1740,290 1680,292" />
 <path class="t" d="M1680,250 C1750,250 1810,256 1820,266 C1810,278 1740,282 1680,284"/>
 <path d="M1720,186 C1760,182 1800,184 1822,190 C1820,200 1800,206 1760,206 C1740,204 1724,198 1720,186 Z" style="fill:#ddd;stroke:#666"/>
 <path d="M1680,320 L1850,330 M1680,346 L1845,346"/>
</g>
 <g transform="translate(0,1176) scale(1,-1)">
 <!-- front corner / hood (T1) -->
 <path d="M76,588 C76,540 83,480 92,430 C97,380 111,320 132,280 C150,245 165,220 182,205 C200,188 220,178 244,174 C280,166 320,162 360,161 L1700,162"/>
 <path d="M104,416 C130,340 170,260 204,222 C220,200 236,190 256,186 C300,176 340,172 382,170 L350,196 C330,208 300,214 270,222 L212,242"/>
 <path d="M110,420 C140,350 180,280 216,244 C240,230 270,226 300,224 L640,216 L1200,216"/>
 <path class="t" d="M250,236 C400,232 520,228 640,226"/>
 <path d="M128,428 C170,380 220,330 272,300 C320,276 370,260 420,252 C500,242 560,240 624,240"/>
 <path d="M146,440 C240,420 330,402 402,384 C450,370 490,350 524,328 L626,250"/>
 <!-- grille band -->
 <path d="M110,412 C105,455 94,520 92,588" style="stroke:#666;stroke-width:2"/>
 <path d="M110,420 C105,458 95,520 93,588" style="stroke:#fff;stroke-width:0.8;stroke-dasharray:0.7 1"/>
 <!-- cowl + windshield (T1b) -->
 <path d="M640,278 C610,320 590,380 582,440 C578,500 576,540 576,588"/>
 <path d="M650,588 C648,500 652,420 670,350 C690,300 710,282 740,274 C760,266 780,262 800,262 L940,300 C970,310 980,320 976,340 C964,400 948,480 942,522 C940,542 930,550 915,553 C890,556 870,560 860,570 C855,576 853,582 853,588"/>
 <path d="M990,322 C975,400 962,500 960,588"/>
 <path class="t" d="M940,340 C930,400 928,460 934,520"/>
 <!-- A pillar / roof rail -->
 <path d="M700,224 C720,236 740,240 760,240 M740,238 L800,218 L860,214"/>
 <path class="h" d="M760,236 C820,240 900,262 990,286 C1040,294 1100,296 1200,296 L1700,296"/>
 <path d="M780,224 C860,236 940,262 1000,280 C1060,290 1120,292 1200,292"/>
 <path d="M800,262 C860,270 930,290 990,310 C1040,318 1100,320 1200,320 L1700,322"/>
 <path class="t" d="M560,178 L1700,180"/>
 <!-- mirror -->
 <path d="M795,200 L845,125 C860,112 880,110 896,112 C906,114 906,122 902,130 L860,205" style="fill:#ddd"/>
 <path class="t" d="M815,190 L862,125 M835,196 L880,128 M852,200 L895,130"/>
 <path d="M700,175 L718,212 L745,214"/>
 <!-- door handles -->
 <path d="M1050,174 C1070,166 1120,166 1140,174 C1120,184 1070,184 1050,174 Z" style="fill:#bbb;stroke:#555"/>
 <path d="M1510,184 C1530,176 1590,176 1610,184 C1590,194 1530,194 1510,184 Z" style="fill:#bbb;stroke:#555"/>
 <!-- pillars diag (T1c) -->
 <path d="M1180,166 C1200,200 1230,250 1262,288 M1260,220 L1285,288 M1500,232 L1540,290 M1660,170 C1660,200 1650,230 1590,290"/>
 <path class="t" d="M1200,220 L1240,286 M1520,232 L1555,290 M1160,220 L1180,240"/>
 <!-- interior -->
 <path class="t" d="M1175,340 L1175,515 M1342,340 L1342,588 M1376,340 L1376,588 M1550,340 L1550,588 M1710,340 L1710,588"/>
 <path class="t" d="M1120,330 L1700,332 M1120,346 L1680,346"/>
 <path class="t" d="M1342,530 L1710,530"/>
 <!-- front seat -->
 <path class="t" d="M1160,360 C1180,370 1200,400 1210,440 C1230,480 1290,500 1320,470 C1330,430 1320,380 1300,350"/>
 <path class="t" d="M1160,500 C1180,540 1260,540 1300,510 C1320,490 1330,470 1335,440"/>
 <path d="M1250,388 C1250,372 1262,368 1280,368 C1300,368 1312,374 1312,390 L1312,450 C1312,466 1300,470 1280,470 C1262,470 1250,464 1250,450 Z" style="stroke:#666"/>
 <path class="t" d="M1265,380 L1265,458 M1298,380 L1298,458"/>
 <path class="t" d="M950,500 C1000,525 1060,532 1150,534 C1160,520 1180,510 1200,520"/>
 <!-- rear seats -->
 <path d="M1380,400 C1380,370 1400,352 1440,350 L1480,350 C1520,352 1532,370 1534,400 L1534,470 C1530,500 1500,515 1460,516 C1410,514 1382,500 1380,470 Z" style="stroke:#666;stroke-width:0.8"/>
 <path d="M1392,430 L1524,430 M1440,352 L1440,514" style="stroke:#888"/>
 <path d="M1562,380 C1580,356 1620,350 1650,362 C1670,376 1674,400 1672,440 C1670,480 1650,508 1610,510 C1585,508 1565,500 1562,480 Z" style="stroke:#666;stroke-width:0.8"/>
 <path d="M1566,430 L1664,430" style="stroke:#888"/>
 <path class="t" d="M1650,372 C1664,380 1676,400 1676,440"/>
 <circle class="t" cx="1555" cy="522" r="12"/>
 <!-- armrest -->
 <path d="M1640,545 L1680,545 L1680,588 M1640,545 L1640,588 M1655,548 L1655,588 M1668,548 L1668,588" style="stroke:#777"/>
 <!-- rear (T1d) -->
 <path d="M1700,162 C1800,166 1880,172 1930,182 C1990,192 2030,210 2060,240 C2100,280 2130,340 2145,420 C2152,480 2156,540 2156,588"/>
 <path d="M1830,186 C1900,190 1960,198 2000,216 C2050,240 2090,290 2110,350 C2125,400 2134,500 2136,588"/>
 <path d="M1910,212 C1960,214 2000,224 2030,246 C2070,280 2090,340 2104,420 C2110,480 2116,540 2118,588"/>
 <path d="M1920,222 C1970,226 2010,234 2034,260 M1990,200 L1930,210"/>
 <path d="M1850,330 C1860,310 1880,302 1900,298 L2010,276 C2040,274 2056,284 2066,304 C2080,340 2090,400 2094,470 C2098,520 2100,560 2100,588"/>
 <path d="M1900,298 C1940,310 1970,340 1990,390 C2004,440 2010,520 2010,588"/>
 <path class="t" d="M1960,330 L2060,296 M1985,362 L2070,340 M1940,306 L2030,282"/>
 <path d="M1845,335 L1845,500 C1843,540 1842,560 1842,588"/>
 <path d="M1200,216 C1400,218 1560,228 1680,240 C1760,246 1830,254 1840,265 C1830,284 1740,290 1680,292" />
 <path class="t" d="M1680,250 C1750,250 1810,256 1820,266 C1810,278 1740,282 1680,284"/>
 <path d="M1720,186 C1760,182 1800,184 1822,190 C1820,200 1800,206 1760,206 C1740,204 1724,198 1720,186 Z" style="fill:#ddd;stroke:#666"/>
 <path d="M1680,320 L1850,330 M1680,346 L1845,346"/>
</g>
 <circle class="f" cx="125" cy="588" r="20" style="fill:#222"/>
 <path d="M116,597 L134,579" style="stroke:#fff;stroke-width:0.4"/>
 <path class="t" d="M1110,236 L1110,940 M1440,240 L1440,936" style="stroke:#888"/>
</g>
</g>
<g class="d">
 <polygon points="183.75,284.3 182.9,287.3 184.6,287.3"/><polygon points="183.75,372.7 182.9,369.7 184.6,369.7"/>
 <polygon points="225,284.8 224.2,287.8 225.8,287.8"/><polygon points="225,372.2 224.2,369.2 225.8,369.2"/>
 <text transform="translate(185.5,328.5) rotate(-90)">1440</text>
 <text transform="translate(226.7,328.5) rotate(-90)">1453</text>
</g>

<!-- rear -->
<g class="l">

<g transform="translate(420,262) scale(0.125)">
 <g>
 <!-- roof and pillar -->
 <path d="M521,62 C450,62 380,66 330,68 C290,72 260,76 244,80 C230,86 222,100 216,118 L180,212 L146,296"/>
 <path d="M238,94 L166,280" style="stroke:#555;stroke-width:1.5"/>
 <path d="M268,80 C276,88 282,96 286,102 L521,98"/>
 <path d="M252,84 L200,220 L160,296"/>
 <path d="M228,122 C300,112 400,110 521,110"/>
 <path d="M246,152 C280,136 320,130 360,128 L521,126"/>
 <path class="h" d="M440,133 L521,133" style="stroke:#777;stroke-width:1.2"/>
 <!-- window -->
 <path d="M246,152 L214,250 C212,262 220,268 232,266"/>
 <path d="M262,168 L234,256"/>
 <path d="M302,164 C290,190 282,220 280,236 C280,250 290,256 310,258 L521,258"/>
 <path d="M302,164 C360,160 440,158 521,158"/>
 <path d="M230,268 L290,274 L521,273"/>
 <path d="M150,292 L521,290"/>
 <path d="M386,348 L521,346" style="stroke:#777"/>
 <!-- mirror -->
 <path class="h" d="M140,250 C120,242 80,246 56,260 C40,270 40,300 56,308 L120,306 C134,300 140,280 140,250 Z"/>
 <path d="M120,306 L104,340 M104,340 L100,372" />
 <circle class="t" cx="102" cy="352" r="6"/>
 <!-- tail light -->
 <path d="M150,300 C180,306 210,310 240,316 L350,336 C365,340 375,344 386,348 L366,390 L330,392 L352,352 L240,330"/>
 <path d="M150,386 L330,386"/>
 <path d="M240,316 C236,340 234,360 236,386 C236,420 238,450 240,464 C244,484 256,496 272,500 L521,506"/>
 <!-- plate -->
 <path d="M462,370 L521,370 M462,406 L521,406 M462,370 C452,372 448,380 448,388 C448,398 452,404 462,406"/>
 <path d="M278,400 C285,420 300,432 330,434 L521,436"/>
 <!-- body side -->
 <path d="M146,296 C120,330 104,370 100,420 C96,470 98,520 102,560 L106,600"/>
 <path d="M150,300 C140,340 130,380 128,420 C128,450 134,470 142,486 C160,506 200,516 270,526"/>
 <path class="t" d="M112,340 C104,380 104,420 110,450"/>
 <!-- bumper -->
 <path d="M270,526 L521,524"/>
 <path class="h" d="M130,566 L230,556 L272,528"/>
 <path d="M126,574 L230,566"/>
 <path d="M106,540 C112,590 124,640 150,678 C170,684 190,680 202,674"/>
 <path d="M210,646 C214,624 226,606 250,594 C280,586 310,584 340,584 L521,588"/>
 <path d="M320,654 C328,634 342,620 364,614 L521,612"/>
 <path d="M206,672 C240,664 280,658 320,656 L521,652"/>
 <circle cx="268" cy="646" r="22" style="stroke:#555;stroke-width:1"/>
 <circle class="t" cx="268" cy="646" r="11"/>
 <path d="M210,709 L521,709" style="stroke:#888;stroke-width:0.8"/>
 <!-- tire -->
 <path d="M106,590 L106,790 C106,802 114,808 126,808 L184,808 C196,806 202,800 202,790 L202,676"/>
</g>
 <g transform="translate(1042,0) scale(-1,1)">
 <!-- roof and pillar -->
 <path d="M521,62 C450,62 380,66 330,68 C290,72 260,76 244,80 C230,86 222,100 216,118 L180,212 L146,296"/>
 <path d="M238,94 L166,280" style="stroke:#555;stroke-width:1.5"/>
 <path d="M268,80 C276,88 282,96 286,102 L521,98"/>
 <path d="M252,84 L200,220 L160,296"/>
 <path d="M228,122 C300,112 400,110 521,110"/>
 <path d="M246,152 C280,136 320,130 360,128 L521,126"/>
 <path class="h" d="M440,133 L521,133" style="stroke:#777;stroke-width:1.2"/>
 <!-- window -->
 <path d="M246,152 L214,250 C212,262 220,268 232,266"/>
 <path d="M262,168 L234,256"/>
 <path d="M302,164 C290,190 282,220 280,236 C280,250 290,256 310,258 L521,258"/>
 <path d="M302,164 C360,160 440,158 521,158"/>
 <path d="M230,268 L290,274 L521,273"/>
 <path d="M150,292 L521,290"/>
 <path d="M386,348 L521,346" style="stroke:#777"/>
 <!-- mirror -->
 <path class="h" d="M140,250 C120,242 80,246 56,260 C40,270 40,300 56,308 L120,306 C134,300 140,280 140,250 Z"/>
 <path d="M120,306 L104,340 M104,340 L100,372" />
 <circle class="t" cx="102" cy="352" r="6"/>
 <!-- tail light -->
 <path d="M150,300 C180,306 210,310 240,316 L350,336 C365,340 375,344 386,348 L366,390 L330,392 L352,352 L240,330"/>
 <path d="M150,386 L330,386"/>
 <path d="M240,316 C236,340 234,360 236,386 C236,420 238,450 240,464 C244,484 256,496 272,500 L521,506"/>
 <!-- plate -->
 <path d="M462,370 L521,370 M462,406 L521,406 M462,370 C452,372 448,380 448,388 C448,398 452,404 462,406"/>
 <path d="M278,400 C285,420 300,432 330,434 L521,436"/>
 <!-- body side -->
 <path d="M146,296 C120,330 104,370 100,420 C96,470 98,520 102,560 L106,600"/>
 <path d="M150,300 C140,340 130,380 128,420 C128,450 134,470 142,486 C160,506 200,516 270,526"/>
 <path class="t" d="M112,340 C104,380 104,420 110,450"/>
 <!-- bumper -->
 <path d="M270,526 L521,524"/>
 <path class="h" d="M130,566 L230,556 L272,528"/>
 <path d="M126,574 L230,566"/>
 <path d="M106,540 C112,590 124,640 150,678 C170,684 190,680 202,674"/>
 <path d="M210,646 C214,624 226,606 250,594 C280,586 310,584 340,584 L521,588"/>
 <path d="M320,654 C328,634 342,620 364,614 L521,612"/>
 <path d="M206,672 C240,664 280,658 320,656 L521,652"/>
 <circle cx="268" cy="646" r="22" style="stroke:#555;stroke-width:1"/>
 <circle class="t" cx="268" cy="646" r="11"/>
 <path d="M210,709 L521,709" style="stroke:#888;stroke-width:0.8"/>
 <!-- tire -->
 <path d="M106,590 L106,790 C106,802 114,808 126,808 L184,808 C196,806 202,800 202,790 L202,676"/>
</g>
 <path d="M500,78 L516,58 C520,54 524,54 528,58 L542,78 Z" style="stroke:#666;stroke-width:0.9;fill:#ddd"/>
 <circle class="f" cx="521" cy="315" r="22" style="fill:#1a1a1a"/>
 <path d="M512,324 L530,306" style="stroke:#fff;stroke-width:0.5"/>
 <path d="M736,556 L736,584 M760,556 L760,584 M736,556 L760,556"/>
</g>
</g>

</svg>
</body>
</html>
